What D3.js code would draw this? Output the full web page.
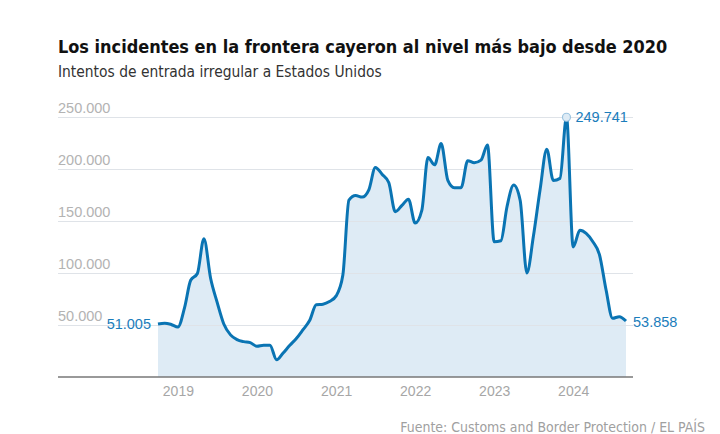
<!DOCTYPE html>
<html><head><meta charset="utf-8">
<script src="https://cdn.jsdelivr.net/npm/d3@7"></script>
<style>
body{margin:0;background:#fff;}
svg{display:block;font-family:"DejaVu Sans Condensed","Roboto",sans-serif;}
.num{font-family:"Liberation Sans","Arimo",Arial,sans-serif;}
</style></head>
<body><svg id="c" width="720" height="434"></svg>
<script>
// Monthly data, Oct 2018 – Sep 2024
const startMonth = "2018-10";
const values = [
  51005, 51800, 50500, 48000, 67000, 93000, 99500, 133000, 95000, 72000, 51000, 40500,
  36000, 34000, 33000, 29500, 30500, 30500, 16500, 23000, 30500, 37000, 45500, 54500,
  69500, 70000, 72500, 78000, 98000, 170000, 174500, 173000, 180000, 201500, 195000, 187000,
  159000, 165000, 171000, 148000, 160500, 211000, 204000, 224500, 189000, 182000, 182000, 208000,
  206000, 208500, 223000, 130000, 131000, 163500, 184500, 170000, 100000, 135000, 180000, 219000,
  189000, 191000, 249741, 125000, 141000, 138000, 130000, 118000, 83600, 56400, 58000, 53858
];
const yTicks = [50000, 100000, 150000, 200000, 250000];
const xTickYears = [2019, 2020, 2021, 2022, 2023, 2024];
const title = "Los incidentes en la frontera cayeron al nivel más bajo desde 2020";
const subtitle = "Intentos de entrada irregular a Estados Unidos";
const source = "Fuente: Customs and Border Protection / EL PAÍS";

const parse = d3.timeParse("%Y-%m");
const t0 = parse(startMonth);
const data = values.map((v, i) => ({date: d3.timeMonth.offset(t0, i), value: v}));

const loc = d3.formatLocale({decimal: ",", thousands: ".", grouping: [3], currency: ["", "€"]});
const fmt = loc.format(",d");

const svg = d3.select("#c");
const gridLeft = 58, gridRight = 633;
const x = d3.scaleTime().domain([data[0].date, data[data.length-1].date]).range([158, 626]);
const y = d3.scaleLinear().domain([0, 250000]).range([377, 117]);

function fit(sel, w){
  const len = sel.node().getComputedTextLength();
  const fs = parseFloat(sel.attr("font-size"));
  sel.attr("font-size", fs * w / len);
}

// title
const tt = svg.append("text").attr("x", 58).attr("y", 53).attr("font-size", 21)
  .attr("font-weight", "bold").attr("fill", "#111").text(title);
fit(tt, 610);
const st = svg.append("text").attr("x", 58).attr("y", 77).attr("font-size", 15)
  .attr("fill", "#333").text(subtitle);
fit(st, 324);

// grid / y axis
const yAxis = d3.axisRight(y).tickValues(yTicks).tickSize(gridRight - gridLeft).tickFormat(fmt);
const gy = svg.append("g").attr("transform", `translate(${gridLeft},0)`).call(yAxis);
gy.select(".domain").remove();
gy.selectAll(".tick text").attr("class", "num").attr("x", 0).attr("dy", -5).attr("text-anchor", "start")
  .attr("font-size", 14.5).attr("fill", "#b3b3b3").attr("dominant-baseline", "auto");

// area + line
const area = d3.area().x(d => x(d.date)).y0(y(0)).y1(d => y(d.value)).curve(d3.curveMonotoneX);
const line = d3.line().x(d => x(d.date)).y(d => y(d.value)).curve(d3.curveMonotoneX);
svg.append("path").datum(data).attr("d", area).attr("fill", "#deebf5");
gy.raise();
gy.selectAll(".tick line").attr("stroke", "#dfe3e8").attr("stroke-width", 1);
svg.append("path").datum(data).attr("d", line).attr("fill", "none")
  .attr("stroke", "#0a74b3").attr("stroke-width", 3).attr("stroke-linejoin", "round");

// baseline
svg.append("line").attr("x1", gridLeft).attr("x2", gridRight).attr("y1", y(0)).attr("y2", y(0))
  .attr("stroke", "#777").attr("stroke-width", 1.5);

// x axis
const xAxis = d3.axisBottom(x).tickValues(xTickYears.map(yr => new Date(yr, 0, 1)))
  .tickSize(0).tickFormat(d3.timeFormat("%Y"));
const gx = svg.append("g").attr("transform", `translate(0,${y(0)})`).call(xAxis);
gx.select(".domain").remove();
gx.selectAll(".tick text").attr("class", "num").attr("dy", 0).attr("y", 19).attr("font-size", 14)
  .attr("fill", "#a6a6a6").attr("dominant-baseline", "auto");

// annotations
const first = data[0], last = data[data.length-1];
const maxD = data.reduce((a, b) => b.value > a.value ? b : a);
svg.append("text").attr("class", "num").attr("x", x(first.date) - 7).attr("y", y(first.value) + 5)
  .attr("text-anchor", "end").attr("font-size", 14.5).attr("fill", "#1b7dbb").text(fmt(first.value));
svg.append("text").attr("class", "num").attr("x", x(last.date) + 7).attr("y", y(last.value) + 6)
  .attr("text-anchor", "start").attr("font-size", 14.5).attr("fill", "#1b7dbb").text(fmt(last.value));
svg.append("circle").attr("cx", x(maxD.date)).attr("cy", y(maxD.value)).attr("r", 4)
  .attr("fill", "#deebf5").attr("stroke", "#9cc4e0").attr("stroke-width", 1.2);
svg.append("text").attr("class", "num").attr("x", x(maxD.date) + 9).attr("y", y(maxD.value) + 5)
  .attr("text-anchor", "start").attr("font-size", 14.5).attr("fill", "#1b7dbb").text(fmt(maxD.value));

// source
const so = svg.append("text").attr("x", 705).attr("y", 432).attr("text-anchor", "end")
  .attr("font-size", 13).attr("fill", "#a0a0a0").text(source);
fit(so, 305);
</script></body></html>
